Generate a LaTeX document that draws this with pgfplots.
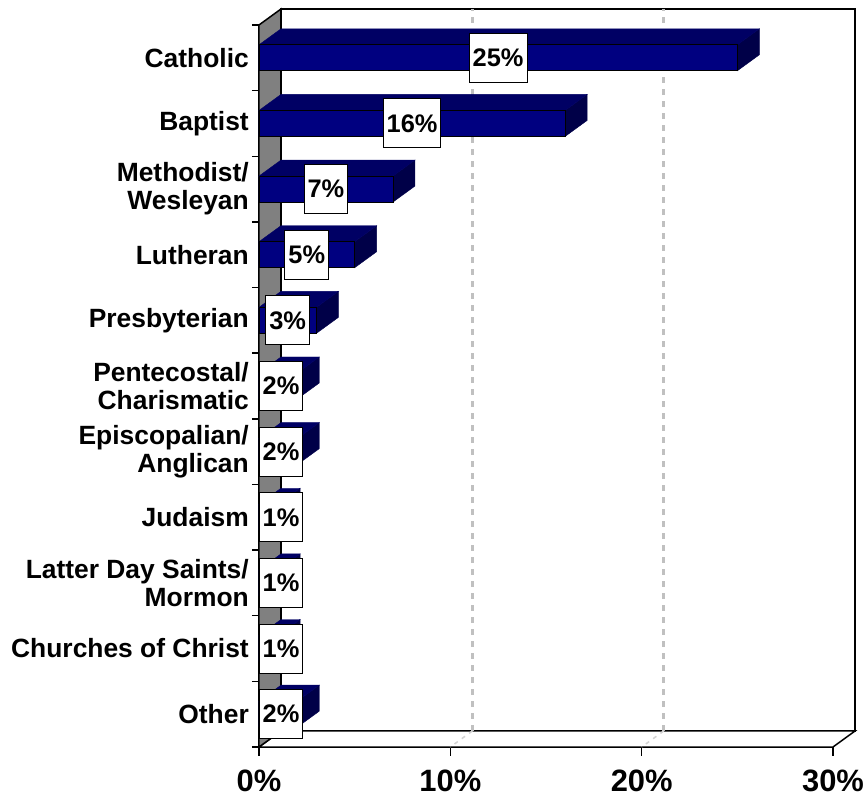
\documentclass[border=0pt]{standalone}
\usepackage{pgfplots}
\pgfplotsset{compat=1.18}
\usepackage{pgfplotstable}
\usepackage{fontspec}
\setmainfont{Liberation Sans}

\definecolor{barfront}{RGB}{0,0,128}
\definecolor{bartop}{RGB}{0,0,100}
\definecolor{barside}{RGB}{0,0,72}
\definecolor{wallgray}{RGB}{128,128,128}
\definecolor{gridgray}{RGB}{192,192,192}

% share of respondents by denomination (idx 0 = bottom row)
\pgfplotstableread{
idx v
0  2
1  1
2  1
3  1
4  2
5  2
6  3
7  5
8  7
9  16
10 25
}\shares

\begin{document}
\begin{tikzpicture}
\path[use as bounding box] (-259bp,-51bp) rectangle (607bp,747bp);
\begin{axis}[
  scale only axis, width=574bp, height=722bp,
  xmin=0, xmax=30, ymin=-0.5, ymax=10.5,
  clip=false,
  axis x line*=bottom, axis y line*=left,
  axis line style={line width=1.5bp},
  tick align=outside,
  major tick length=9bp, minor tick length=7bp,
  xtick={0,10,20,30},
  xticklabel={\pgfmathprintnumber{\tick}\%},
  ytick={0,...,10},
  yticklabels={Other, Churches of Christ, {Latter Day Saints/\\Mormon}, Judaism,
    {Episcopalian/\\Anglican}, {Pentecostal/\\Charismatic}, Presbyterian, Lutheran,
    {Methodist/\\Wesleyan}, Baptist, Catholic},
  minor ytick={-0.5,0.5,...,10.5},
  major y tick style={draw=none},
  minor y tick style={line width=1.5bp, black},
  major x tick style={line width=1.5bp, black},
  /pgf/number format/assume math mode=true,
  xticklabel style={font=\fontsize{31}{33}\selectfont\bfseries, inner sep=0pt, anchor=north, yshift=-14bp},
  yticklabel style={font=\fontsize{26.5}{28}\selectfont\bfseries, align=right, inner sep=0pt, anchor=east, xshift=-1bp},
  bartop/.style={fill=bartop, draw=black, line width=0.8bp},
  barside/.style={fill=barside, draw=black, line width=0.8bp},
]
% back wall, floor and left wall of the box
\filldraw[fill=white, draw=black, line width=1.5bp]
  ([shift={(22bp,16bp)}]axis cs:0,-0.5) rectangle ([shift={(22bp,16bp)}]axis cs:30,10.5);
\filldraw[fill=white, draw=black, line width=1.5bp]
  (axis cs:0,-0.5) -- (axis cs:30,-0.5) -- ([shift={(22bp,16bp)}]axis cs:30,-0.5)
  -- ([shift={(22bp,16bp)}]axis cs:0,-0.5) -- cycle;
\filldraw[fill=wallgray, draw=black, line width=1.5bp]
  (axis cs:0,-0.5) -- (axis cs:0,10.5) -- ([shift={(22bp,16bp)}]axis cs:0,10.5)
  -- ([shift={(22bp,16bp)}]axis cs:0,-0.5) -- cycle;
% dotted grid on the back wall and floor
\pgfplotsinvokeforeach{10,20}{
  \draw[gridgray, line width=2.8bp, dash pattern=on 6bp off 6bp]
    ([shift={(22bp,16bp)}]axis cs:#1,-0.5) -- ([shift={(22bp,16bp)}]axis cs:#1,10.5);
  \draw[gridgray!70, line width=1.5bp, dash pattern=on 4bp off 5bp]
    ([shift={(22bp,16bp)}]axis cs:#1,-0.5) -- (axis cs:#1,-0.5);
}
% top and side faces of each bar
\pgfplotsinvokeforeach{0,...,10}{%
  \pgfplotstablegetelem{#1}{v}\of\shares
  \let\val\pgfplotsretval
  \edef\faces{%
    \noexpand\filldraw[barside] ([yshift=-13bp]axis cs:\val,#1) -- ([yshift=13bp]axis cs:\val,#1)
      -- ([shift={(22bp,29bp)}]axis cs:\val,#1) -- ([shift={(22bp,3bp)}]axis cs:\val,#1) -- cycle;
    \noexpand\filldraw[bartop] ([yshift=13bp]axis cs:0,#1) -- ([yshift=13bp]axis cs:\val,#1)
      -- ([shift={(22bp,29bp)}]axis cs:\val,#1) -- ([shift={(22bp,29bp)}]axis cs:0,#1) -- cycle;
  }%
  \faces
}
% front faces
\addplot[xbar, bar width=26bp, fill=barfront, draw=black, line width=0.8bp]
  table[x=v, y=idx] {\shares};
% value labels
\addplot[draw=none, mark=none, point meta=explicit,
  nodes near coords={\pgfmathprintnumber{\pgfplotspointmeta}\%},
  nodes near coords align=center,
  every node near coord/.append style={anchor=center, draw=black, line width=1bp,
    fill=white, text=black, minimum height=49bp, inner xsep=3.5bp, inner ysep=0pt,
    font=\fontsize{25.5}{27}\selectfont\bfseries}]
  table[x expr={max(\thisrow{v}/2,1.15)}, y=idx, meta=v] {\shares};
\end{axis}
\end{tikzpicture}
\end{document}
